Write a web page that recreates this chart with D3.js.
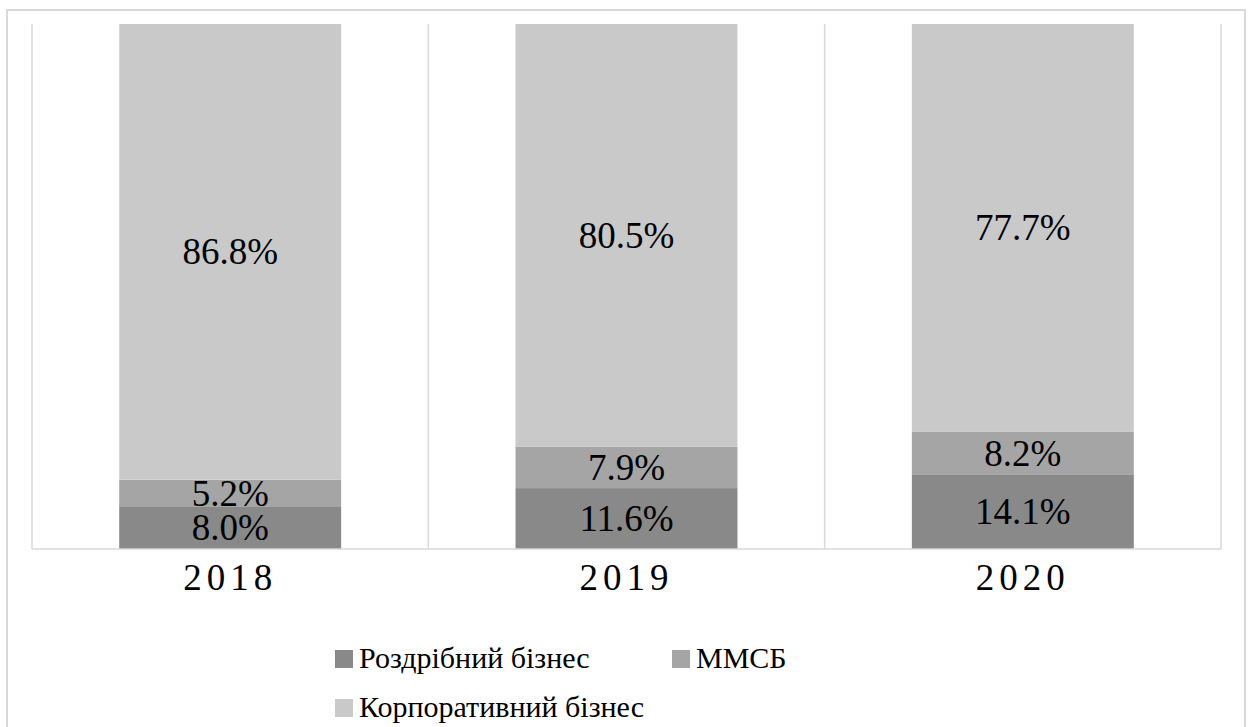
<!DOCTYPE html>
<html>
<head>
<meta charset="utf-8">
<script src="https://cdn.jsdelivr.net/npm/d3@7"></script>
<style>
  html, body { margin: 0; padding: 0; background: #fff; }
  svg { display: block; }
  svg text { font-family: "Liberation Serif", "Times New Roman", serif; }
</style>
</head>
<body>
<svg id="chart" width="1249" height="727"></svg>
<script>
// Loan portfolio structure by business segment, %
const years = ["2018", "2019", "2020"];
const seriesNames = ["Роздрібний бізнес", "ММСБ", "Корпоративний бізнес"];
const retail = [8.0, 11.6, 14.1];
const smb = [5.2, 7.9, 8.2];
const corporate = [86.8, 80.5, 77.7];
const colors = ["#898989", "#a5a5a5", "#c9c9c9"];

const rows = years.map((y, i) => ({
  year: y,
  [seriesNames[0]]: retail[i],
  [seriesNames[1]]: smb[i],
  [seriesNames[2]]: corporate[i]
}));

const svg = d3.select("#chart");
const plot = { left: 32, right: 1221, top: 24, bottom: 549 };

// outer frame
svg.append("rect")
  .attr("x", 7).attr("y", 10)
  .attr("width", 1238).attr("height", 730)
  .attr("fill", "none").attr("stroke", "#d9d9d9").attr("stroke-width", 2);

const x = d3.scaleBand().domain(years).range([plot.left, plot.right]).paddingInner(0.44).paddingOuter(0.22);
const y = d3.scaleLinear().domain([0, 100]).range([plot.bottom, plot.top]);

// vertical gridlines at category boundaries
const step = (plot.right - plot.left) / years.length;
const bounds = d3.range(years.length + 1).map(i => plot.left + i * step);
svg.append("g").selectAll("line").data(bounds).join("line")
  .attr("x1", d => d).attr("x2", d => d)
  .attr("y1", plot.top).attr("y2", plot.bottom)
  .attr("stroke", "#d9d9d9").attr("stroke-width", 1.5);

const layers = d3.stack().keys(seriesNames)(rows);

const g = svg.append("g");
layers.forEach((layer, si) => {
  g.append("g").selectAll("rect").data(layer).join("rect")
    .attr("x", d => x(d.data.year))
    .attr("width", x.bandwidth())
    .attr("y", d => y(d[1]))
    .attr("height", d => y(d[0]) - y(d[1]))
    .attr("fill", colors[si]);
});

// axis baseline
svg.append("line")
  .attr("x1", plot.left).attr("x2", plot.right)
  .attr("y1", plot.bottom).attr("y2", plot.bottom)
  .attr("stroke", "#d9d9d9").attr("stroke-width", 1.5);

// value labels centred in each segment
layers.forEach(layer => {
  g.append("g").selectAll("text").data(layer).join("text")
    .attr("x", d => x(d.data.year) + x.bandwidth() / 2)
    .attr("y", d => (y(d[0]) + y(d[1])) / 2)
    .attr("dy", "0.33em")
    .attr("text-anchor", "middle")
    .attr("font-size", 37)
    .attr("fill", "#000")
    .text(d => (d[1] - d[0]).toFixed(1) + "%");
});

// category axis labels
const xAxis = d3.axisBottom(x).tickSize(0).tickPadding(0);
const axG = svg.append("g").attr("transform", `translate(0,${plot.bottom})`).call(xAxis);
axG.attr("font-family", null);
axG.select(".domain").remove();
axG.selectAll("text")
  .attr("y", 41)
  .attr("dy", 0)
  .attr("font-size", 37)
  .attr("letter-spacing", "5px")
  .attr("fill", "#000");

// legend
const legendItems = [
  { name: seriesNames[0], color: colors[0], x: 335, y: 668 },
  { name: seriesNames[1], color: colors[1], x: 672, y: 668 },
  { name: seriesNames[2], color: colors[2], x: 335, y: 717 }
];
const lg = svg.append("g").selectAll("g").data(legendItems).join("g")
  .attr("transform", d => `translate(${d.x},${d.y})`);
lg.append("rect").attr("x", 0).attr("y", -18).attr("width", 18).attr("height", 18).attr("fill", d => d.color);
lg.append("text").attr("x", 24).attr("y", 0)
  .attr("font-size", 30).attr("fill", "#000")
  .text(d => d.name);
</script>
</body>
</html>
